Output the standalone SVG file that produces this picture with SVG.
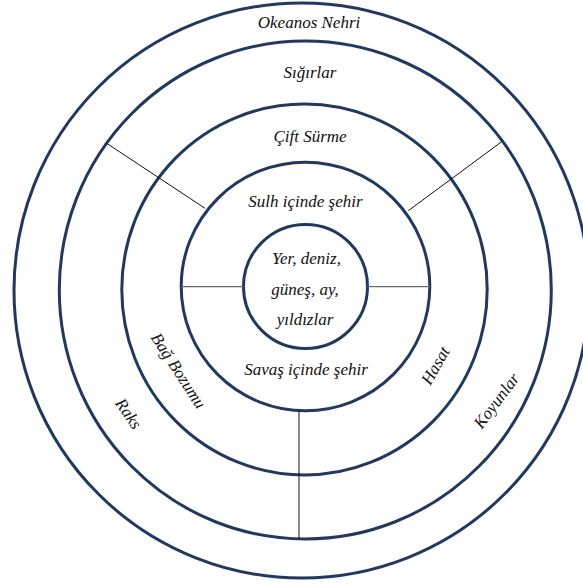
<svg xmlns="http://www.w3.org/2000/svg" width="583" height="586" viewBox="0 0 583 586">
<style>
.ring{fill:none;stroke:#1f3864;stroke-width:3}
.t{font-family:'Liberation Serif', serif;font-style:italic;font-size:17px;fill:#111;text-anchor:middle}
.c{stroke:#111;stroke-width:1;fill:none}
.g{stroke:#6a6a6a;stroke-width:1.3;fill:none}
</style>
<rect width="583" height="586" fill="#fff"/>
<g id="ring-okeanos"><circle class="ring" cx="301.5" cy="290.5" r="287.5"/><text class="t" x="309" y="28">Okeanos Nehri</text></g>
<g id="ring-sigirlar"><ellipse class="ring" cx="305.3" cy="290" rx="246" ry="249"/><text class="t" x="310" y="78">Sığırlar</text></g>
<g id="ring-cift"><ellipse class="ring" cx="304.5" cy="289.5" rx="182.7" ry="185.5"/><text class="t" x="310" y="142">Çift Sürme</text></g>
<g id="ring-sulh"><circle class="ring" cx="305.5" cy="286.5" r="124.3"/><text class="t" x="305.5" y="207">Sulh içinde şehir</text></g>
<g id="center"><circle class="ring" cx="305.5" cy="286.5" r="62"/>
<text class="t" x="306.5" y="264">Yer, deniz,</text>
<text class="t" x="305" y="295">güneş, ay,</text>
<text class="t" x="305" y="325">yıldızlar</text></g>
<g id="savas"><text class="t" x="306" y="375">Savaş içinde şehir</text></g>
<g id="bag"><text class="t" transform="translate(178,371) rotate(57)" x="0" y="5">Bağ Bozumu</text></g>
<g id="hasat"><text class="t" transform="translate(436,366) rotate(-60)" x="0" y="5">Hasat</text></g>
<g id="raks"><text class="t" transform="translate(128,414) rotate(55)" x="0" y="5">Raks</text></g>
<g id="koyunlar"><text class="t" transform="translate(497,401) rotate(-53)" x="0" y="5">Koyunlar</text></g>
<g id="connectors">
<line class="g" x1="181.5" y1="286.7" x2="243.5" y2="286.7"/>
<line class="g" x1="367.5" y1="286.7" x2="429.8" y2="286.7"/>
<line class="c" x1="106.7" y1="143.3" x2="205" y2="208.3"/>
<line class="c" x1="408.3" y1="210.7" x2="501.7" y2="141.7"/>
<line class="c" x1="299" y1="410.6" x2="299" y2="539"/>
</g>
</svg>
